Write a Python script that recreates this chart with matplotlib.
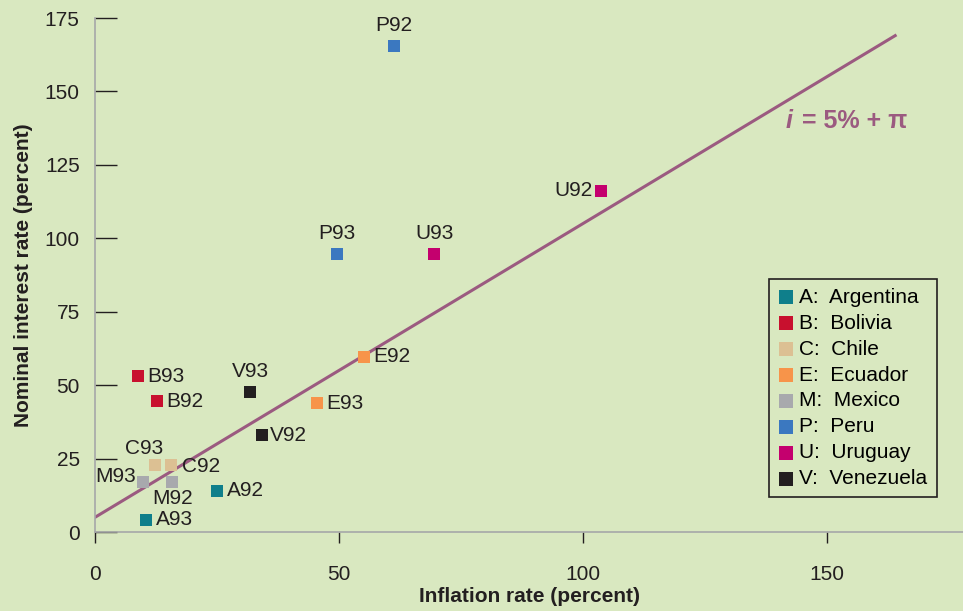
import matplotlib.pyplot as plt

plt.rcParams['font.family'] = ['Liberation Sans', 'DejaVu Sans']

# country codes, names and colours
codes = ['A', 'B', 'C', 'E', 'M', 'P', 'U', 'V']
names = ['Argentina', 'Bolivia', 'Chile', 'Ecuador', 'Mexico', 'Peru', 'Uruguay', 'Venezuela']
colors = ['#0f7f8b', '#c8102e', '#dcc093', '#f7944a', '#a8a9ad', '#3b78c0', '#c4006e', '#231f20']

# observations: label, inflation, nominal rate
labels = ['A92', 'A93', 'B92', 'B93', 'C92', 'C93', 'E92', 'E93',
          'M92', 'M93', 'P92', 'P93', 'U92', 'U93', 'V92', 'V93']
inflation = [25.0, 10.5, 12.7, 8.8, 15.6, 12.3, 55.1, 45.5,
             15.8, 9.8, 61.3, 49.6, 103.7, 69.5, 34.2, 31.8]
nominal = [14.0, 4.1, 44.6, 53.1, 22.8, 22.8, 59.6, 43.9,
           17.0, 17.0, 165.5, 94.7, 116.1, 94.7, 33.0, 47.7]

# where each label goes relative to its marker (offset in points, ha, va)
lab_pos = {
    'A92': (7, 0, 'left', 'center'), 'A93': (7, 0, 'left', 'center'),
    'B92': (7, 0, 'left', 'center'), 'B93': (7, 0, 'left', 'center'),
    'C92': (8, -1, 'left', 'center'), 'C93': (-8, 12, 'center', 'center'),
    'E92': (7, 0, 'left', 'center'), 'E93': (7, 0, 'left', 'center'),
    'M92': (0, -12, 'center', 'center'), 'M93': (-5, 4, 'right', 'center'),
    'P92': (0, 15, 'center', 'center'), 'P93': (0, 15, 'center', 'center'),
    'U92': (-6, 0, 'right', 'center'), 'U93': (0, 15, 'center', 'center'),
    'V92': (6, 0, 'left', 'center'), 'V93': (0, 15, 'center', 'center'),
}

line_x = [0, 164]
line_y = [5 + v for v in line_x]

bg = '#d9e8c0'
line_col = '#9b5a80'

fig = plt.figure(figsize=(9.63, 6.11), dpi=100, facecolor=bg)
ax = fig.add_axes([95 / 963, 79 / 611, 868 / 963, 514 / 611])
ax.set_facecolor(bg)

ax.plot(line_x, line_y, color=line_col, lw=2.2, zorder=2)

for code, name, col in zip(codes, names, colors):
    xs = [x for l, x in zip(labels, inflation) if l[0] == code]
    ys = [y for l, y in zip(labels, nominal) if l[0] == code]
    ax.scatter(xs, ys, marker='s', s=85, color=col, lw=0, zorder=3,
               label=code + ':  ' + name)

for l, x, y in zip(labels, inflation, nominal):
    dx, dy, ha, va = lab_pos[l]
    ax.annotate(l, (x, y), xytext=(dx, dy), textcoords='offset points',
                ha=ha, va=va, fontsize=15, color='#231f20')

# equation label
ax.text(141.6, 140, 'i', fontsize=18, fontweight='bold', fontstyle='italic',
        color=line_col, ha='left', va='center')
ax.text(145.0, 140, '= 5% + π', fontsize=18, fontweight='bold',
        color=line_col, ha='left', va='center')

ax.set_xlim(0, 177.9)
ax.set_ylim(0, 175)
ax.set_xticks([0, 50, 100, 150])
ax.set_yticks([0, 25, 50, 75, 100, 125, 150, 175])

for s in ['top', 'right']:
    ax.spines[s].set_visible(False)
for s in ['left', 'bottom']:
    ax.spines[s].set_color('#a6a8a8')
    ax.spines[s].set_linewidth(1.2)

ax.tick_params(axis='y', direction='in', length=16, width=1, colors='#231f20',
               labelsize=15, pad=11)
ax.tick_params(axis='x', direction='out', length=8, width=1, colors='#231f20',
               labelsize=15, pad=16)

ax.set_xlabel('Inflation rate (percent)', fontsize=15, fontweight='bold',
              color='#231f20', labelpad=2)
ax.set_ylabel('Nominal interest rate (percent)', fontsize=15, fontweight='bold',
              color='#231f20', labelpad=8)

leg = ax.legend(loc='lower right', bbox_to_anchor=(0.982, 0.047), fontsize=15,
                frameon=True, fancybox=False, handletextpad=0.3,
                handlelength=0.7, borderpad=0.45, labelspacing=0.33,
                scatterpoints=1, markerscale=1.1)
leg.get_frame().set_facecolor(bg)
leg.get_frame().set_edgecolor('#231f20')
leg.get_frame().set_linewidth(1.2)
leg.get_frame().set_alpha(1)

fig.savefig('out.png', dpi=100, facecolor=bg)
